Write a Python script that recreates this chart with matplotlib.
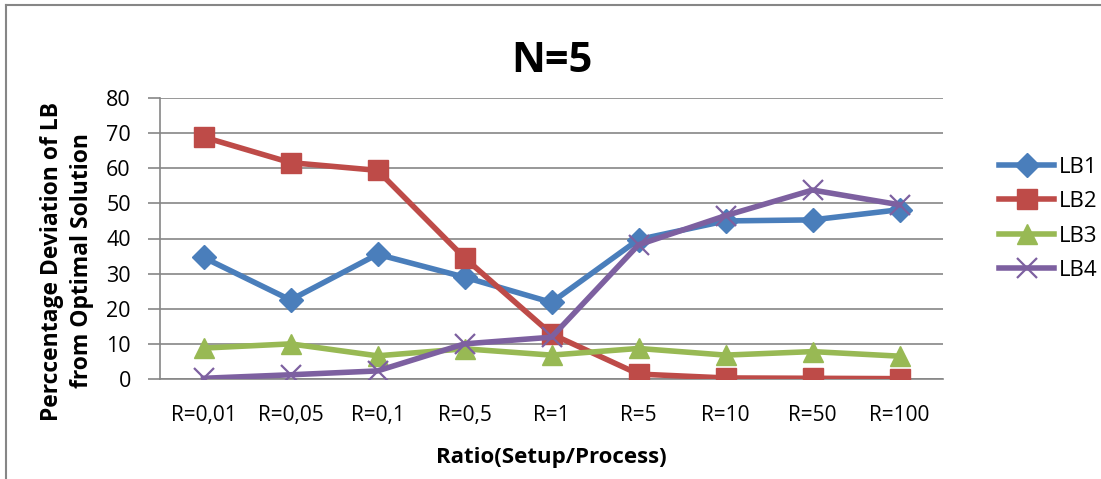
import matplotlib.pyplot as plt
from matplotlib.lines import Line2D

plt.rcParams['font.family'] = ['Open Sans', 'DejaVu Sans']

categories = ["R=0,01", "R=0,05", "R=0,1", "R=0,5", "R=1", "R=5", "R=10", "R=50", "R=100"]
lb1 = [34.6, 22.5, 35.5, 29.0, 21.8, 39.7, 45.0, 45.3, 48.2]
lb2 = [68.9, 61.6, 59.4, 34.5, 12.8, 1.4, 0.3, 0.2, 0.1]
lb3 = [8.8, 10.0, 6.6, 8.6, 6.8, 8.7, 6.8, 7.8, 6.5]
lb4 = [0.2, 1.2, 2.3, 10.0, 11.9, 38.2, 46.5, 53.8, 49.6]

fig = plt.figure(figsize=(11.01, 4.79), dpi=100)
ax = fig.add_axes([160 / 1101, 100 / 479, 783 / 1101, 281 / 479])

x = list(range(len(categories)))
ax.plot(x, lb1, color="#4A7EBB", lw=4, marker="D", ms=12, label="LB1", zorder=3)
ax.plot(x, lb2, color="#BE4B48", lw=4, marker="s", ms=14, label="LB2", zorder=3)
ax.plot(x, lb3, color="#98B954", lw=4, marker="^", ms=15, label="LB3", zorder=3)
ax.plot(x, lb4, color="#7D60A0", lw=4, marker="x", ms=14, mew=1.6, label="LB4", zorder=4)

ax.set_xlim(-0.5, len(categories) - 0.5)
ax.set_ylim(0, 80)
ax.set_yticks(range(0, 81, 10))
ax.set_xticks(x)
ax.set_xticklabels(categories)
ax.tick_params(axis="y", length=9, width=1.2, color="#868686", labelsize=15.5, pad=12)
ax.tick_params(axis="x", length=0, labelsize=15, pad=19)
ax.grid(axis="y", color="#868686", lw=1.2)
ax.set_axisbelow(True)
for s in ["top", "right"]:
    ax.spines[s].set_visible(False)
for s in ["left", "bottom"]:
    ax.spines[s].set_color("#868686")
    ax.spines[s].set_linewidth(1.2)

ax.set_title("N=5", fontsize=30, fontweight="bold", pad=19)
ax.set_xlabel("Ratio(Setup/Process)", fontsize=16, fontweight="bold", labelpad=15)
ax.set_ylabel("Perccentage Deviation of LB\nfrom Optimal Solution", fontsize=16.5,
              fontweight="bold", linespacing=1.35, ha="center", va="center")
ax.yaxis.set_label_coords(-0.119, 0.42)

ax.legend(loc="upper left", bbox_to_anchor=(990 / 1101, 1 - 148 / 479),
          bbox_transform=fig.transFigure, frameon=False, fontsize=16,
          handlelength=2.5, labelspacing=0.6, handletextpad=0.2, borderaxespad=0)

# chart border (right/bottom sides are cut off in the original)
fig.add_artist(Line2D([6 / 1101, 6 / 1101], [0, 1 - 5 / 479], color="#868686", lw=1.5))
fig.add_artist(Line2D([6 / 1101, 1], [1 - 5 / 479, 1 - 5 / 479], color="#868686", lw=1.5))

fig.savefig("out.png", dpi=100)
